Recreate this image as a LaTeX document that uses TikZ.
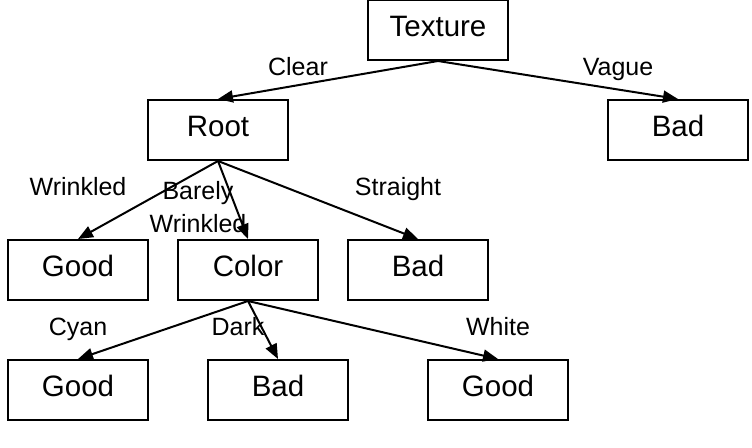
\documentclass[tikz,border=0pt]{standalone}
\usepackage{fontspec}
\setmainfont{Liberation Sans}
\usetikzlibrary{arrows.meta}

\begin{document}
\begin{tikzpicture}[x=1pt, y=-1pt, line width=2pt,
	every box/.style={draw, minimum width=140pt, minimum height=60pt, inner sep=0pt,
		font=\fontsize{29.5}{35}\selectfont, text height=21pt, text depth=9pt},
	edge text/.style={align=center, anchor=base, inner sep=0pt,
		font=\fontsize{25}{33}\selectfont},
	link/.style={-{Triangle[length=15pt, width=12pt]}}]
	\useasboundingbox (0,0) rectangle (752,447);
	
	\node [every box] (top) at (438,30) {Texture};
	
	\foreach \m/\x [count=\y] in {Root/218, Bad/678}
	\node [every box] (first-\y) at (\x,130) {\m};
	
	\foreach \m/\x [count=\y] in {Good/78, Color/248, Bad/418}
	\node [every box] (second-\y) at (\x,270) {\m};
	
	\foreach \m/\x [count=\y] in {Good/78, Bad/278, Good/498}
	\node [every box] (third-\y) at (\x,390) {\m};
	
	\foreach \i in {1,2}
	\draw [link] (top.south) -- (first-\i.north);
	
	\foreach \i in {1,...,3}
	\draw [link] (first-1.south) -- (second-\i.north);
	
	\foreach \i in {1,...,3}
	\draw [link] (second-2.south) -- (third-\i.north);
	
	\foreach \l/\x/\y [count=\c] in {Clear/298/75, Vague/618/75, Wrinkled/78/195, {Barely\\Wrinkled}/198/232, Straight/398/195, Cyan/78/335, Dark/238/335, White/498/335}
	\node [edge text] (cond-\c) at (\x,\y) {\l};
\end{tikzpicture}
\end{document}
